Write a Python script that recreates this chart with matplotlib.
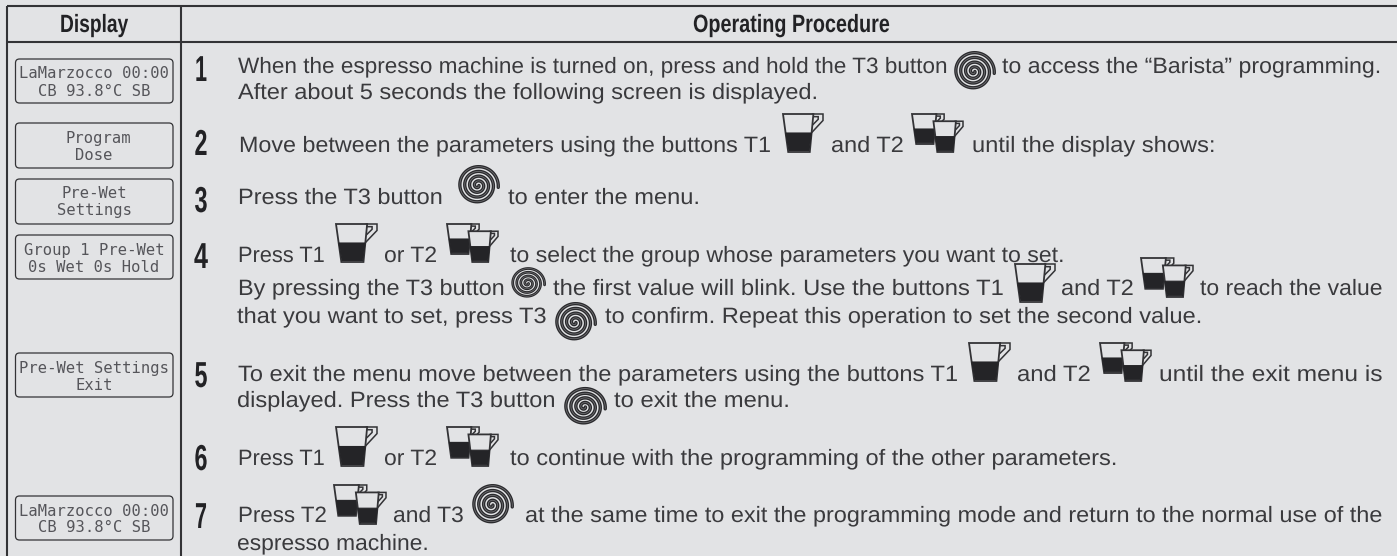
import numpy as np
import matplotlib
matplotlib.use("Agg")
import matplotlib.pyplot as plt
from matplotlib.patches import FancyBboxPatch, Polygon
from matplotlib.patheffects import AbstractPathEffect
from matplotlib.transforms import Affine2D

# ---- content ----
headers = ["Display", "Operating Procedure"]
step_numbers = ["1", "2", "3", "4", "5", "6", "7"]
display_lines = [
    ("LaMarzocco 00:00", "CB 93.8°C SB"),
    ("Program", "Dose"),
    ("Pre-Wet", "Settings"),
    ("Group 1 Pre-Wet", "0s Wet 0s Hold"),
    ("Pre-Wet Settings", "Exit"),
    ("LaMarzocco 00:00", "CB 93.8°C SB"),
]
procedure_texts = [
    "When the espresso machine is turned on, press and hold the T3 button",
    "to access the “Barista” programming.",
    "After about 5 seconds the following screen is displayed.",
    "Move between the parameters using the buttons T1",
    "and T2",
    "until the display shows:",
    "Press the T3 button",
    "to enter the menu.",
    "Press T1",
    "or T2",
    "to select the group whose parameters you want to set.",
    "By pressing the T3 button",
    "the first value will blink. Use the buttons T1",
    "and T2",
    "to reach the value",
    "that you want to set, press T3",
    "to confirm. Repeat this operation to set the second value.",
    "To exit the menu move between the parameters using the buttons T1",
    "and T2",
    "until the exit menu is",
    "displayed. Press the T3 button",
    "to exit the menu.",
    "Press T1",
    "or T2",
    "to continue with the programming of the other parameters.",
    "Press T2",
    "and T3",
    "at the same time to exit the programming mode and return to the normal use of the",
    "espresso machine.",
]

# ---- layout (pixels) ----
procedure_layout = [
    (238, 948, 73), (1002, 1382, 73), (238, 819, 99),
    (239, 772, 152), (831, 904, 152), (972, 1216, 152),
    (238, 443, 204), (508, 700, 204),
    (238, 325, 262), (384, 437, 262), (510, 1065, 262),
    (238, 505, 295), (553, 1005, 295), (1061, 1134, 295), (1200, 1383, 295),
    (237, 547, 323), (605, 1203, 323),
    (238, 959, 381), (1017, 1091, 381), (1159, 1383, 381),
    (237, 556, 407), (614, 790, 407),
    (238, 325, 465), (384, 437, 465), (510, 1118, 465),
    (238, 327, 522), (393, 464, 522), (525, 1383, 522),
    (237, 429, 550),
]
step_layout = [(195, 207, 81), (194.5, 207.5, 155), (194.5, 207.5, 212), (194, 208, 268),
               (194.5, 207.5, 387), (194.5, 207.5, 470), (195, 207, 528)]
box_layout = [(59, 103), (123, 168), (179, 224), (235, 279), (353, 397), (496, 540)]
cup_layout = [(783, 823, 114, 152), (336, 377, 224, 262), (1015, 1055, 264, 302),
              (969, 1010, 343, 381), (336, 377, 427, 466)]
two_cup_layout = [(912, 963, 114, 152), (447, 498, 224, 262), (1141, 1193, 258, 297),
                  (1100, 1151, 343, 381), (447, 498, 427, 466), (334, 386, 485, 524)]
spiral_layout = [(955, 996, 52, 90), (459, 500, 166, 204), (512, 546, 268, 298),
                 (556, 597, 303, 341), (565, 607, 388, 425), (473, 514, 485, 524)]

BG = "#e2e3e5"
INK = "#333336"
TXT = "#3a3a3d"

fig = plt.figure(figsize=(13.97, 5.56), dpi=100, facecolor=BG)
ax = fig.add_axes([0, 0, 1, 1])
ax.set_xlim(0, 1397)
ax.set_ylim(556, 0)
ax.axis("off")
renderer = fig.canvas.get_renderer()


class HStretch(AbstractPathEffect):
    """Squeeze real text horizontally so it spans a target width."""

    def __init__(self, old_x0, new_x0, sx):
        super().__init__()
        self.m = Affine2D().translate(-old_x0, 0).scale(sx, 1).translate(new_x0, 0)

    def draw_path(self, renderer, gc, tpath, affine, rgbFace=None):
        renderer.draw_path(gc, tpath, affine + self.m, rgbFace)


def fit_text(s, x0, x1, y, size, **kw):
    t = ax.text(x0, y, s, fontsize=size, ha="left", va="baseline", **kw)
    bb = t.get_window_extent(renderer)
    px0 = ax.transData.transform((x0, y))[0]
    px1 = ax.transData.transform((x1, y))[0]
    t.set_path_effects([HStretch(bb.x0, px0, (px1 - px0) / bb.width)])
    return t


# grid
for xs, ys in [((7, 7), (6, 556)), ((181, 181), (6, 556)), ((7, 1397), (6, 6)), ((7, 1397), (42, 42))]:
    ax.plot(xs, ys, color=INK, lw=1.5, solid_capstyle="butt")

# headers
HEAD = dict(family="Liberation Sans", color="#222225", fontweight="bold")
fit_text(headers[0], 60, 128, 32, 18, **HEAD)
fit_text(headers[1], 693, 890, 32, 18, **HEAD)

# step numbers
for s, (x0, x1, y) in zip(step_numbers, step_layout):
    fit_text(s, x0, x1, y, 26, **HEAD)

# display boxes
for (top, bot), (l1, l2) in zip(box_layout, display_lines):
    ax.add_patch(FancyBboxPatch((15.5 + 3, top + 3), 157.5 - 6, bot - top - 6,
                                boxstyle="round,pad=3,rounding_size=4",
                                fc="none", ec=INK, lw=0.9))
    for s, yy in ((l1, top + 19.5), (l2, top + 36.5)):
        xc = 98.7 if s == "Program" else 94
        ax.text(xc, yy, s, family="DejaVu Sans Mono", fontsize=11.2, color="#55555a",
                ha="center", va="baseline")

# procedure text
for s, (x0, x1, y) in zip(procedure_texts, procedure_layout):
    fit_text(s, x0, x1, y, 16, family="Liberation Sans", color=TXT)


def draw_cup(x0, x1, y0, y1):
    w, h = x1 - x0, y1 - y0
    P = lambda pts: [(x0 + a * w, y0 + b * h) for a, b in pts]
    ax.add_patch(Polygon(P([(.74, 0), (1, 0), (1, .17), (.69, .52), (.7, .33), (.88, .14), (.88, .07), (.74, .07)]),
                         closed=True, fc=BG, ec=INK, lw=1.1, zorder=3))
    ax.add_patch(Polygon(P([(0, 0), (.76, 0), (.67, 1), (.13, 1)]), closed=True, fc=BG, ec=INK, lw=1.3, zorder=3))
    ax.add_patch(Polygon(P([(.07, .5), (.71, .5), (.65, .96), (.15, .96)]), closed=True, fc="#242427", ec="#242427", lw=.8, zorder=3))


def draw_two(x0, x1, y0, y1):
    w, h = x1 - x0, y1 - y0
    draw_cup(x0, x0 + .63 * w, y0, y0 + .79 * h)
    draw_cup(x0 + .42 * w, x1, y0 + .19 * h, y1)


def draw_spiral(x0, x1, y0, y1):
    th = np.linspace(0, 1, 700)
    turns = 4.0
    ang = 2 * np.pi * 5 + 0.1 - (1 - th) * turns * 2 * np.pi
    r = .05 + .95 * th
    w, h = x1 - x0, y1 - y0
    ry = h / 1.9
    cx, cy, rx = x0 + .46 * w, y0 + .97 * ry, .5 * w
    xs = cx + rx * r * np.cos(ang)
    ys = cy + ry * r * np.sin(ang)
    scale = w / 41
    ax.plot(xs, ys, color="#2a2a2d", lw=2.4 * scale, zorder=3, solid_capstyle="round")
    ax.plot(xs, ys, color="#77777a", lw=.5 * scale, zorder=3)


for b in cup_layout:
    draw_cup(*b)
for b in two_cup_layout:
    draw_two(*b)
for b in spiral_layout:
    draw_spiral(*b)

fig.savefig("out.png", dpi=100, facecolor=BG)
